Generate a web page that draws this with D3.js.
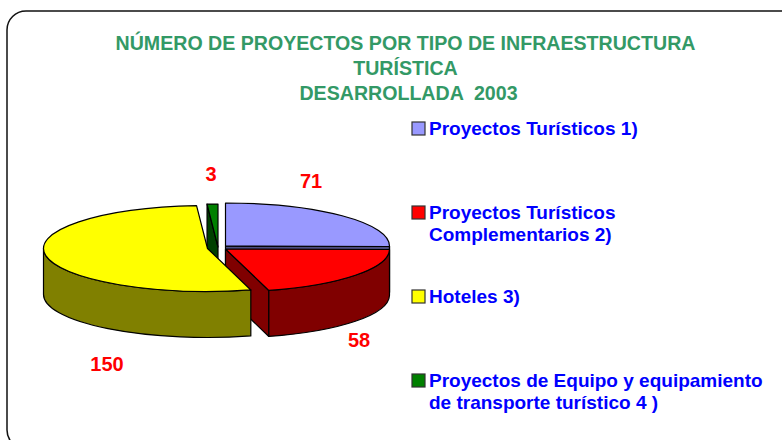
<!DOCTYPE html>
<html>
<head>
<meta charset="utf-8">
<script src="https://cdnjs.cloudflare.com/ajax/libs/d3/7.8.5/d3.min.js"></script>
<style>
  body { margin: 0; background: #fff; }
  svg { display: block; }
  text { font-family: "Liberation Sans", Arial, sans-serif; font-weight: bold; white-space: pre; }
</style>
</head>
<body>
<svg id="chart" width="782" height="440"></svg>
<script>
// Data
const categories = [
  ['Proyectos Turísticos 1)'],
  ['Proyectos Turísticos', 'Complementarios 2)'],
  ['Hoteles 3)'],
  ['Proyectos de Equipo y equipamiento', 'de transporte turístico 4 )'],
];
const values = [71, 58, 150, 3];
const titleLines = [
  'NÚMERO DE PROYECTOS POR TIPO DE INFRAESTRUCTURA',
  'TURÍSTICA',
  'DESARROLLADA  2003',
];

// Styling
const topColors = ['#9999ff', '#ff0000', '#ffff00', '#008000'];
const sideColors = ['#4d4d80', '#800000', '#808000', '#004000'];
const rx = 164;
const ry = 43;
const depth = 46;
// apex of each exploded slice
const apexes = [[225.5, 246], [225.5, 249], [207.5, 248.5], [218, 247]];
const labelPos = [[311, 188], [359, 347], [107, 371], [211, 181]];
const legendY = [135, 219, 303, 387];
const titleX = [405.5, 405.5, 408.5];

const svg = d3.select('#chart');

// Frame runs off the right and bottom of the picture
svg.append('rect')
  .attr('x', 7).attr('y', 11)
  .attr('width', 792).attr('height', 438)
  .attr('rx', 19).attr('ry', 19)
  .attr('fill', '#fff')
  .attr('stroke', '#111')
  .attr('stroke-width', 1.5);

// Title
svg.append('g').selectAll('text')
  .data(titleLines)
  .join('text')
  .attr('x', (d, i) => titleX[i])
  .attr('y', (d, i) => 50 + i * 25)
  .attr('text-anchor', 'middle')
  .attr('font-size', 19.6)
  .attr('fill', '#339966')
  .text((d) => d);

// Pie angles, clockwise from 12 o'clock
const arcs = d3.pie().sort(null)(values);

const pt = (i, a) => [
  apexes[i][0] + rx * Math.sin(a),
  apexes[i][1] - ry * Math.cos(a),
];

function topPath(d, i) {
  const a = pt(i, d.startAngle);
  const b = pt(i, d.endAngle);
  const large = d.endAngle - d.startAngle > Math.PI ? 1 : 0;
  return `M${apexes[i]}L${a}A${rx},${ry} 0 ${large} 1 ${b}Z`;
}

// Visible part of the rim runs from the start angle round to 270deg at most
function rimPath(d, i) {
  const from = Math.max(d.startAngle, Math.PI / 2);
  const to = Math.min(d.endAngle, Math.PI * 1.5);
  if (to <= from) return null;
  const a = pt(i, from);
  const b = pt(i, to);
  return `M${a}A${rx},${ry} 0 0 1 ${b}L${b[0]},${b[1] + depth}`
    + `A${rx},${ry} 0 0 0 ${a[0]},${a[1] + depth}Z`;
}

// Cut face between the apex and the rim
function facePath(i, a) {
  const p = pt(i, a);
  const o = apexes[i];
  return `M${o}L${p}L${p[0]},${p[1] + depth}L${o[0]},${o[1] + depth}Z`;
}

const pie = svg.append('g')
  .attr('stroke', '#000')
  .attr('stroke-width', 1.2)
  .attr('stroke-linejoin', 'round');

// Faces that turn toward the viewer: blue and red end cuts, green start cut
const faces = [
  { i: 0, a: arcs[0].endAngle },
  { i: 3, a: arcs[3].startAngle },
  { i: 1, a: arcs[1].endAngle },
];
[3, 0, 1, 2].forEach((i) => {
  const d = arcs[i];
  faces.filter((f) => f.i === i).forEach((f) => {
    pie.append('path').attr('d', facePath(f.i, f.a)).attr('fill', sideColors[i]);
  });
  const rim = rimPath(d, i);
  if (rim) pie.append('path').attr('d', rim).attr('fill', sideColors[i]);
  pie.append('path').attr('d', topPath(d, i)).attr('fill', topColors[i]);
});

// Value labels
svg.append('g').selectAll('text')
  .data(values)
  .join('text')
  .attr('x', (d, i) => labelPos[i][0])
  .attr('y', (d, i) => labelPos[i][1])
  .attr('text-anchor', 'middle')
  .attr('font-size', 20)
  .attr('fill', '#ff0000')
  .text((d) => d);

// Legend
const legend = svg.append('g').selectAll('g')
  .data(categories)
  .join('g');

legend.append('rect')
  .attr('x', 412)
  .attr('y', (d, i) => legendY[i] - 13)
  .attr('width', 13)
  .attr('height', 13)
  .attr('fill', (d, i) => topColors[i])
  .attr('stroke', '#333')
  .attr('stroke-width', 1.2);

legend.each(function (lines, i) {
  d3.select(this).selectAll('text')
    .data(lines)
    .join('text')
    .attr('x', 429)
    .attr('y', (d, j) => legendY[i] + j * 22)
    .attr('font-size', 19)
    .attr('fill', '#0000ff')
    .text((d) => d);
});
</script>
</body>
</html>
